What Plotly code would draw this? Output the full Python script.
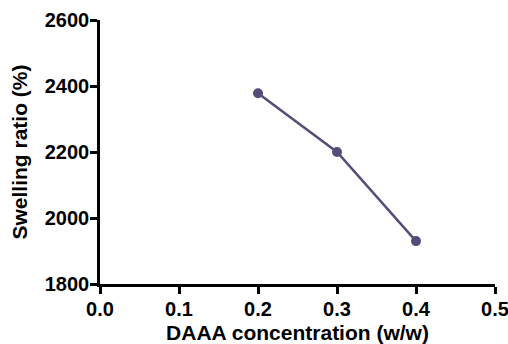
import plotly.graph_objects as go

concentration = [0.2, 0.3, 0.4]
swelling_ratio = [2378, 2200, 1930]
x_ticks = [0.0, 0.1, 0.2, 0.3, 0.4, 0.5]
x_tick_labels = ["0.0", "0.1", "0.2", "0.3", "0.4", "0.5"]
y_ticks = [1800, 2000, 2200, 2400, 2600]

color = "#544d79"
font_family = "Liberation Sans, Arial, sans-serif"

fig = go.Figure()
fig.add_trace(go.Scatter(
    x=concentration, y=swelling_ratio, mode="lines+markers",
    line=dict(color=color, width=2.5),
    marker=dict(color=color, size=10),
    showlegend=False,
))

axis_common = dict(
    showline=True, linecolor="black", linewidth=2.5,
    ticks="outside", tickcolor="black", tickwidth=2.5, ticklen=7,
    showgrid=False, zeroline=False, automargin=False,
    ticklabeloverflow="allow",
    tickfont=dict(family=font_family, size=20, color="black", weight="bold"),
)

fig.update_layout(
    width=508, height=344,
    margin=dict(l=100, r=13, t=20, b=60),
    paper_bgcolor="white", plot_bgcolor="white",
    xaxis=dict(
        range=[0, 0.5], tickvals=x_ticks, ticktext=x_tick_labels,
        ticklabelstandoff=-2,
        title=dict(text="DAAA concentration (w/w)", standoff=14,
                   font=dict(family=font_family, size=21, color="black", weight="bold")),
        **axis_common,
    ),
    yaxis=dict(
        range=[1800, 2600], tickvals=y_ticks, ticklabelstandoff=-3,
        title=dict(text="Swelling ratio (%)", standoff=12,
                   font=dict(family=font_family, size=21, color="black", weight="bold")),
        **axis_common,
    ),
)

fig.write_html(
    "out.html",
    config={"displayModeBar": False},
    post_script="document.body.style.margin='0';document.body.style.overflow='hidden';",
)
